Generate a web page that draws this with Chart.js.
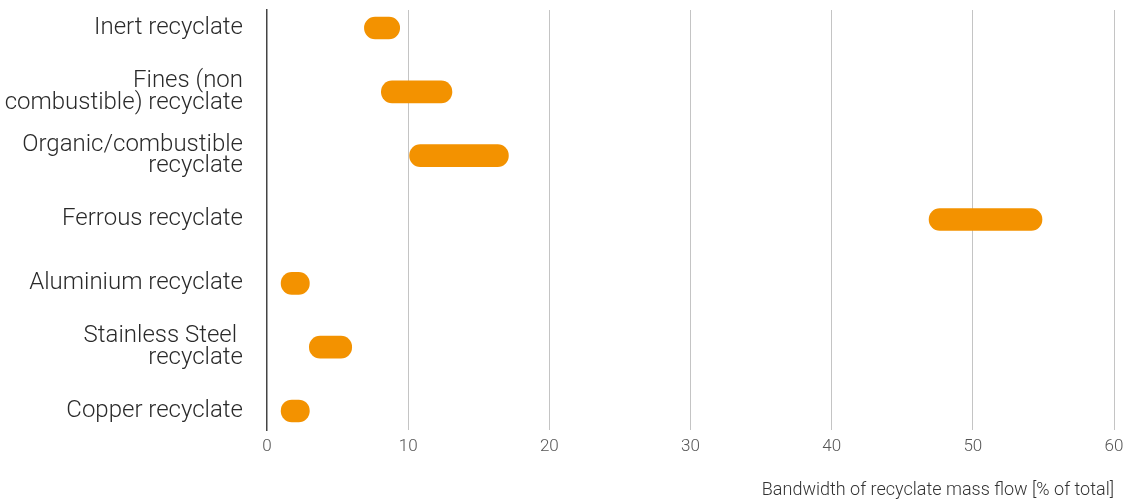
<!DOCTYPE html>
<html>
<head>
<meta charset="utf-8">
<script src="https://cdn.jsdelivr.net/npm/chart.js@4"></script>
<style>
    html, body { margin: 0; padding: 0; background: #fff; }
    #wrap { width: 1133px; height: 499px; }
</style>
</head>
<body>
<div id="wrap"><canvas id="flowChart" width="1133" height="499"></canvas></div>
<script>
    // recycle streams, top to bottom
    var categories = [
        'Inert recyclate',
        ['Fines (non', 'combustible) recyclate'],
        ['Organic/combustible', 'recyclate'],
        'Ferrous recyclate',
        'Aluminium recyclate',
        ['Stainless Steel ', 'recyclate'],
        'Copper recyclate'
    ];
    // bandwidth, % of total
    var lowValues  = [6.9, 8.1, 10.1, 46.9, 1.0, 3.0, 1.0];
    var highValues = [9.4, 13.1, 17.1, 54.9, 3.0, 6.0, 3.0];
    var xTicks = [0, 10, 20, 30, 40, 50, 60];
    var xTitle = 'Bandwidth of recyclate mass flow [% of total]';

    var barData = categories.map(function (c, i) {
        return { y: i, x: [lowValues[i], highValues[i]] };
    });

    var chartConfig = {
        type: 'bar',
        data: {
            datasets: [
                {
                    data: barData,
                    backgroundColor: '#F39200',
                    borderWidth: 0,
                    borderRadius: 11,
                    borderSkipped: false,
                    barThickness: 22
                }
            ]
        },
        options: {
            indexAxis: 'y',
            responsive: false,
            animation: false,
            layout: {
                padding: { top: 10, right: 19, bottom: 0, left: 0 }
            },
            plugins: {
                legend: { display: false },
                tooltip: { enabled: false }
            },
            scales: {
                x: {
                    type: 'linear',
                    position: 'bottom',
                    min: 0,
                    max: 60,
                    afterBuildTicks: function (scale) {
                        scale.ticks = xTicks.map(function (v) { return { value: v }; });
                    },
                    afterFit: function (scale) {
                        scale.height = 69;
                        scale.paddingLeft = 0;
                        scale.paddingRight = 0;
                    },
                    grid: {
                        drawTicks: false,
                        lineWidth: 1,
                        color: function (ctx) {
                            return ctx.tick && ctx.tick.value === 0 ? 'rgba(0,0,0,0)' : '#c4c4c4';
                        }
                    },
                    border: { display: false },
                    ticks: {
                        padding: 7,
                        color: '#555',
                        font: { family: 'Roboto', size: 17, weight: 300 }
                    },
                    title: {
                        display: true,
                        text: xTitle,
                        align: 'end',
                        color: '#333',
                        padding: { top: 0, bottom: 0 },
                        font: { family: 'Roboto', size: 18, weight: 300, lineHeight: 0.9 }
                    }
                },
                y: {
                    type: 'linear',
                    reverse: true,
                    offset: false,
                    min: -0.282,
                    max: 6.298,
                    afterBuildTicks: function (scale) {
                        scale.ticks = categories.map(function (c, i) { return { value: i }; });
                    },
                    afterFit: function (scale) {
                        scale.width = 267;
                        scale.paddingTop = 0;
                        scale.paddingBottom = 0;
                    },
                    grid: { display: false, drawTicks: false, offset: false },
                    border: { display: true, color: '#444', width: 1.5 },
                    ticks: {
                        padding: 24,
                        color: '#2a2a2a',
                        autoSkip: false,
                        font: { family: 'Roboto', size: 24, weight: 300, lineHeight: 0.9 },
                        callback: function (value) {
                            return categories[value];
                        }
                    }
                }
            }
        }
    };

    var ctx = document.getElementById('flowChart').getContext('2d');
    var flowChart = new Chart(ctx, chartConfig);
</script>
</body>
</html>
